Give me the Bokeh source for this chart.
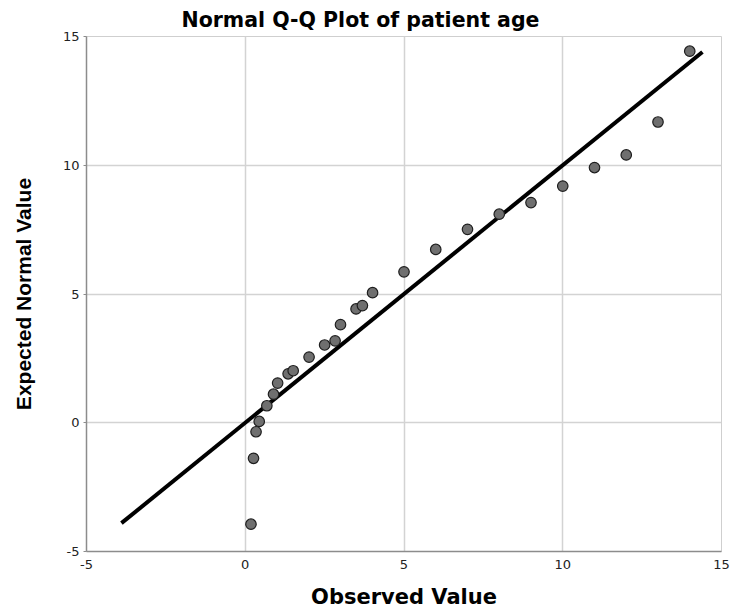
from bokeh.plotting import figure
from bokeh.models import Range1d, FixedTicker, ColumnDataSource
from bokeh.embed import file_html
from bokeh.resources import INLINE

# Data
observed = [0.18, 0.26, 0.34, 0.44, 0.68, 0.89, 1.02, 1.35, 1.51, 2.01, 2.5, 2.83, 3.0,
            3.49, 3.69, 4.01, 5.0, 6.0, 7.0, 8.0, 9.0, 10.0, 11.0, 12.0, 13.0, 14.0]
expected = [-3.94, -1.38, -0.35, 0.05, 0.66, 1.11, 1.54, 1.9, 2.02, 2.55, 3.02, 3.18, 3.81,
            4.42, 4.55, 5.05, 5.86, 6.73, 7.51, 8.1, 8.55, 9.19, 9.91, 10.4, 11.68, 14.43]
ref_line_x = [-3.9, 14.4]
ref_line_y = [-3.9, 14.4]
ticks = [-5, 0, 5, 10, 15]
tick_labels = {-5: "-5", 0: "0", 5: "5", 10: "10", 15: "15"}

p = figure(width=731, height=613, output_backend="svg", toolbar_location=None,
           x_range=Range1d(-5, 15), y_range=Range1d(-5, 15),
           min_border_left=86, min_border_right=10, min_border_top=36, min_border_bottom=62,
           title="Normal Q-Q Plot of patient age")

p.title.text_font = "DejaVu Sans"
p.title.text_font_style = "bold"
p.title.text_font_size = "20.5px"
p.title.text_color = "#000000"
p.title.align = "left"
p.title.offset = 95

p.outline_line_color = "#cfcfcf"
p.outline_line_width = 1
p.background_fill_color = "white"
p.border_fill_color = "white"

for ax in (p.xaxis[0], p.yaxis[0]):
    ax.ticker = FixedTicker(ticks=ticks)
    ax.major_label_overrides = tick_labels
    ax.axis_line_color = "#8c8c8c"
    ax.axis_line_width = 1.5
    ax.major_tick_in = 0
    ax.minor_tick_line_color = None
    ax.major_label_text_font = "DejaVu Sans"
    ax.major_label_text_font_size = "13px"
    ax.major_label_text_color = "#222222"
    ax.axis_label_text_font_style = "bold"
    ax.axis_label_text_color = "#000000"

p.xaxis.axis_label = "Observed Value"
p.xaxis.axis_label_text_font = "DejaVu Sans"
p.xaxis.axis_label_text_font_size = "21px"
p.xaxis.major_tick_out = 0
p.xaxis.major_tick_line_color = None
p.xaxis.major_label_standoff = 8
p.xaxis.axis_label_standoff = 13

p.yaxis.axis_label = "Expected Normal Value"
p.yaxis.axis_label_text_font = "Liberation Sans"
p.yaxis.axis_label_text_font_size = "21px"
p.yaxis.major_tick_out = 3
p.yaxis.major_tick_line_color = "#8c8c8c"
p.yaxis.major_label_standoff = 4
p.yaxis.axis_label_standoff = 25

p.xgrid.ticker = FixedTicker(ticks=ticks)
p.ygrid.ticker = FixedTicker(ticks=ticks)
p.xgrid.grid_line_color = "#d3d3d3"
p.ygrid.grid_line_color = "#d3d3d3"
p.xgrid.grid_line_width = 1.5
p.ygrid.grid_line_width = 1.5

src = ColumnDataSource(dict(x=observed, y=expected))
p.line(ref_line_x, ref_line_y, line_color="black", line_width=4)
p.scatter("x", "y", source=src, size=10.5, fill_color="#6f6f6f",
          line_color="#1e1e1e", line_width=1.2)

open("out.html", "w").write(file_html(p, INLINE))
